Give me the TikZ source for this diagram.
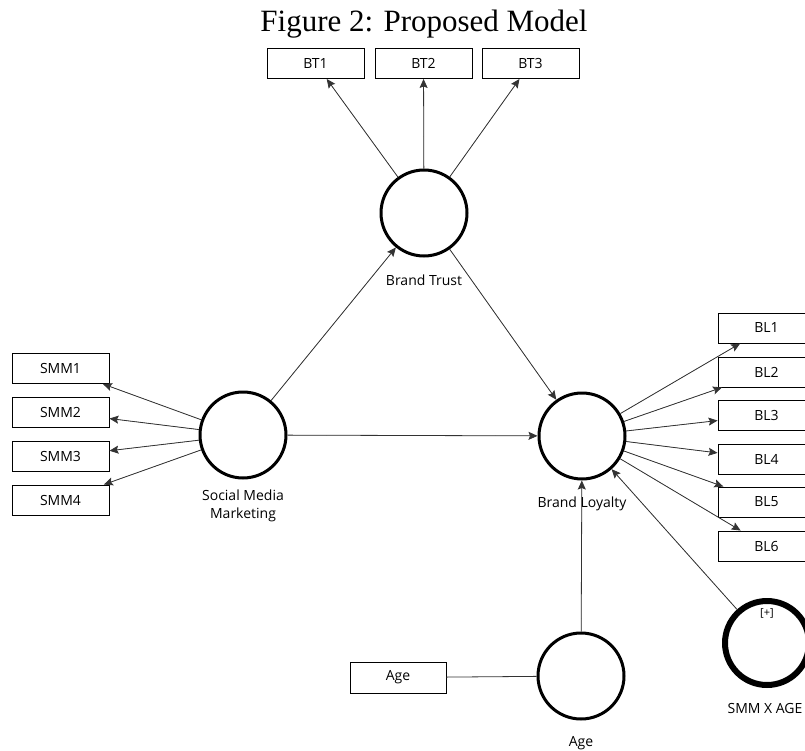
\documentclass[tikz,border=0pt]{standalone}
\usepackage{fontspec}
\setmainfont{Open Sans}
\newfontfamily\titlefont{Liberation Serif}
\usetikzlibrary{arrows.meta}
\begin{document}
\begin{tikzpicture}[x=1pt,y=-1pt,
 ind/.style={draw, line width=0.9pt, minimum width=97pt, minimum height=30pt, inner sep=0pt, font=\fontsize{14}{16}\selectfont},
 lat/.style={draw, circle, line width=3pt, minimum size=86pt, inner sep=0pt},
 lbl/.style={font=\fontsize{14}{18}\selectfont, align=center},
 arr/.style={-{Stealth[length=9pt,width=8pt,inset=1.5pt]}, line width=0.8pt, draw=black!80, fill=black},
 ln/.style={line width=0.8pt, draw=black!80}]
\useasboundingbox (0,0) rectangle (805,751);
\clip (0,0) rectangle (805,751);
\node[font=\titlefont\fontsize{31}{33}\selectfont, anchor=base] (title) at (424,32) {Figure 2: Proposed Model};
% Brand trust
\node[ind] (bt1) at (315.5,63.5) {BT1};
\node[ind] (bt2) at (423.5,63.5) {BT2};
\node[ind] (bt3) at (530.5,63.5) {BT3};
\node[lat] (bt) at (424,213) {};
\node[lbl] (btl) at (424,280) {Brand Trust};
% SMM
\node[lat] (smm) at (243,435) {};
\node[lbl] (smml) at (243,506) {Social Media\\Marketing};
\node[ind] (smm1) at (60.5,368.5) {SMM1};
\node[ind] (smm2) at (60.5,412.5) {SMM2};
\node[ind] (smm3) at (60.5,456.5) {SMM3};
\node[ind] (smm4) at (60.5,500) {SMM4};
% Brand loyalty
\node[lat] (bl) at (582,436) {};
\node[lbl] (bll) at (582,504) {Brand Loyalty};
\node[ind] (bl1) at (766.5,328) {BL1};
\node[ind] (bl2) at (766.5,372) {BL2};
\node[ind] (bl3) at (766.5,415) {BL3};
\node[ind] (bl4) at (766.5,459) {BL4};
\node[ind] (bl5) at (766.5,502) {BL5};
\node[ind] (bl6) at (766.5,546) {BL6};
% Age
\node[lat] (age) at (581,676) {};
\node[lbl] (agel) at (581,743) {Age};
\node[ind, minimum width=96pt, minimum height=31pt] (agebox) at (398,677.5) {Age};
% Interaction
\node[lat, line width=6pt, minimum size=84pt] (smmx) at (767,643) {};
\node[font=\fontsize{11}{13}\selectfont] (plus) at (767,613) {[+]};
\node[lbl] (smmxl) at (765,708) {SMM X AGE};
% connectors
\draw[arr] (bt) -- (bt1);
\draw[arr] (bt) -- (bt2);
\draw[arr] (bt) -- (bt3);
\draw[arr] (smm) -- (smm1);
\draw[arr] (smm) -- (smm2);
\draw[arr] (smm) -- (smm3);
\draw[arr] (smm) -- (smm4);
\draw[arr] (smm) -- (bt);
\draw[arr] (smm) -- (bl);
\draw[arr] (bt) -- (bl);
\draw[arr] (bl) -- (bl1);
\draw[arr] (bl) -- (bl2);
\draw[arr] (bl) -- (bl3);
\draw[arr] (bl) -- (bl4);
\draw[arr] (bl) -- (bl5);
\draw[arr] (bl) -- (bl6);
\draw[arr] (age) -- (bl);
\draw[arr] (smmx) -- (bl);
\draw[ln] (agebox) -- (age);
\end{tikzpicture}
\end{document}
